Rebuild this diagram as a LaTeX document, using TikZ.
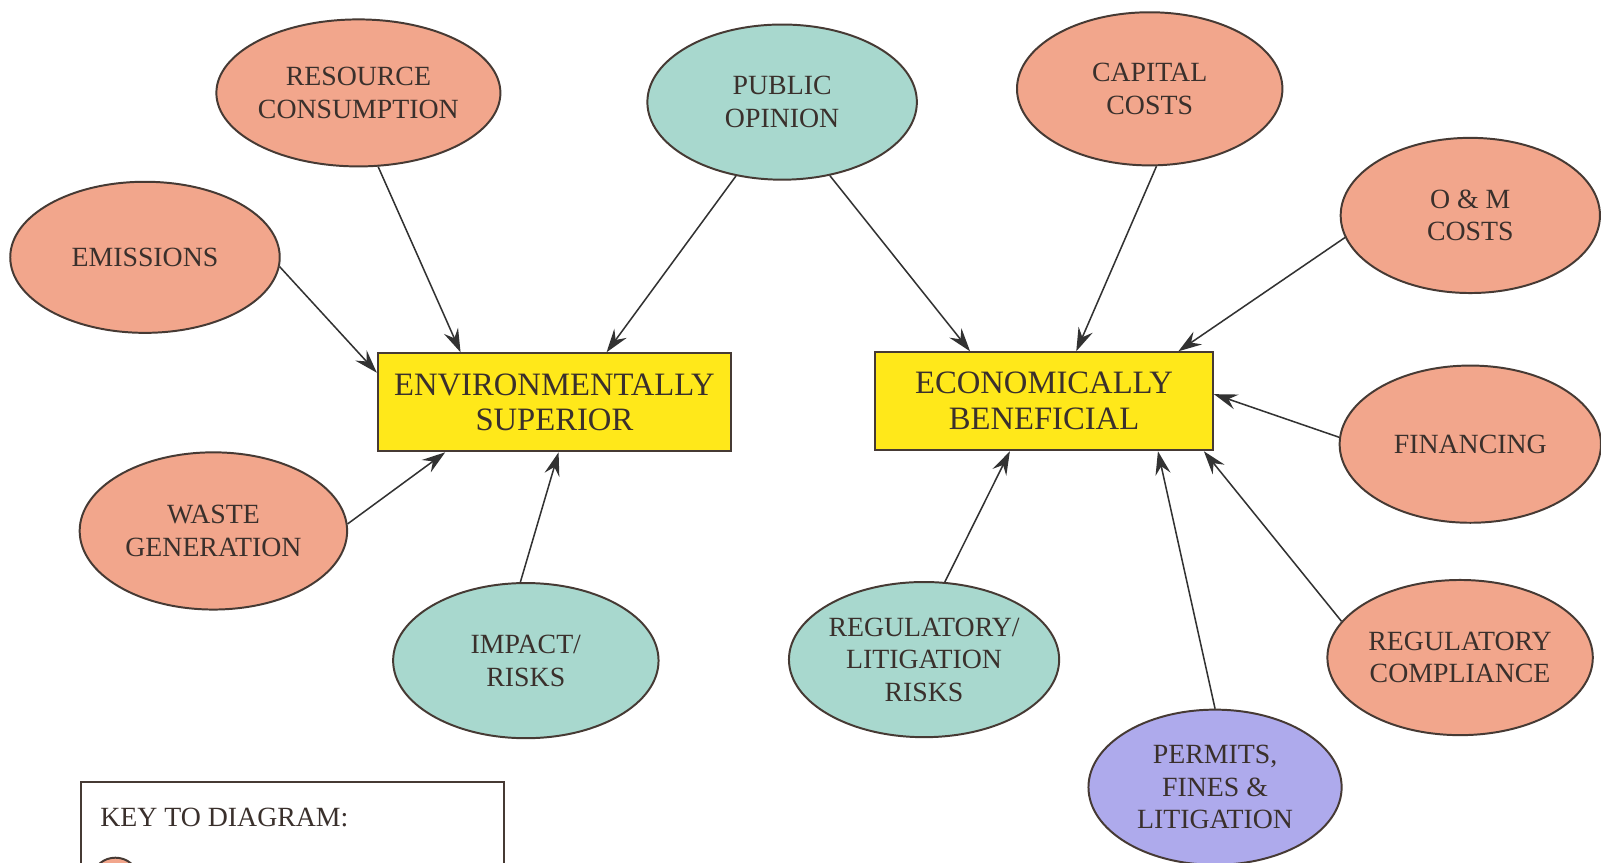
\documentclass[tikz,border=0pt]{standalone}
\usepackage{fontspec}
\setmainfont{Liberation Serif}
\usetikzlibrary{shapes.geometric,arrows.meta,calc}
\definecolor{salmon}{RGB}{242,166,140}
\definecolor{teal}{RGB}{168,216,206}
\definecolor{lav}{RGB}{174,170,236}
\definecolor{ybox}{RGB}{255,232,26}
\definecolor{ink}{RGB}{58,48,44}
\definecolor{edge}{RGB}{70,58,52}
\definecolor{arrc}{RGB}{50,50,50}
\tikzset{
  bubble/.style={ellipse, draw=edge, line width=1.1pt, inner sep=0pt,
    minimum width=5.2cm, minimum height=3.04cm, align=center, text=ink,
    font=\fontsize{15.5}{18.2}\selectfont},
  sal/.style={bubble, fill=salmon},
  tea/.style={bubble, fill=teal},
  lil/.style={bubble, fill=lav},
  goal/.style={rectangle, draw=edge, line width=1.1pt, fill=ybox, inner sep=0pt,
    minimum height=1.92cm, align=center, text=ink,
    font=\fontsize{18.2}{20}\selectfont},
  arr/.style={draw=arrc, line width=0.85pt,
    -{Stealth[length=0.46cm, width=0.30cm, inset=0.16cm]}},
  keybox/.style={draw=edge, line width=1.1pt, fill=white},
}
\begin{document}
\begin{tikzpicture}[x=0.02cm, y=-0.02cm]
\useasboundingbox (0,0) rectangle (1568,845);
\clip (0,0) rectangle (1568,845);
\fill[white] (0,0) rectangle (1568,845);

% central boxes
\node[goal, minimum width=6.92cm] (env) at (543,394) {ENVIRONMENTALLY\\SUPERIOR};
\node[goal, minimum width=6.62cm] (eco) at (1022.5,393) {ECONOMICALLY\\BENEFICIAL};

% factor ellipses
\node[sal, minimum width=5.28cm, minimum height=2.88cm] (res) at (351,91) {RESOURCE\\CONSUMPTION};
\node[sal, minimum width=5.28cm, minimum height=2.96cm] (emi) at (142,252) {EMISSIONS};
\node[tea, minimum width=5.28cm] (pub) at (766,100) {PUBLIC\\OPINION};
\node[sal, minimum height=3.0cm] (cap) at (1126,87) {CAPITAL\\COSTS};
\node[sal, minimum width=5.08cm] (om) at (1440,211) {O \& M\\COSTS};
\node[sal, minimum width=5.12cm, minimum height=3.08cm] (fin) at (1440,435) {FINANCING};
\node[sal, minimum width=5.24cm, minimum height=3.08cm] (was) at (209,520) {WASTE\\GENERATION};
\node[tea] (imp) at (515,647) {IMPACT/\\RISKS};
\node[tea] (rl) at (905,646) {REGULATORY/\\LITIGATION\\RISKS};
\node[sal] (rc) at (1430,644) {REGULATORY\\COMPLIANCE};
\node[lil, minimum width=4.96cm] (per) at (1190,771) {PERMITS,\\FINES \&\\LITIGATION};

% arrow tips on the boxes
\coordinate (e1) at ($(env.north west)+(82,0)$);
\coordinate (e2) at ($(env.north west)+(225,0)$);
\coordinate (e3) at ($(env.north west)+(0,20)$);
\coordinate (e4) at ($(env.south west)+(67,0)$);
\coordinate (e5) at ($(env.south west)+(178,0)$);
\coordinate (c1) at ($(eco.north west)+(94,0)$);
\coordinate (c2) at ($(eco.north west)+(198,0)$);
\coordinate (c3) at ($(eco.north west)+(298,0)$);
\coordinate (c4) at ($(eco.north east)+(0,42)$);
\coordinate (c5) at ($(eco.south west)+(133,0)$);
\coordinate (c6) at ($(eco.south west)+(278,0)$);
\coordinate (c7) at ($(eco.south west)+(323,0)$);

% connectors
\draw[arr] (res.-75) -- (e1);
\draw[arr] (pub.-122) -- (e2);
\draw[arr] (emi.-4) -- (e3);
\draw[arr] (was.3) -- (e4);
\draw[arr] (imp.94) -- (e5);
\draw[arr] (pub.-57) -- (c1);
\draw[arr] (cap.-85) -- (c2);
\draw[arr] (om.-170) -- (c3);
\draw[arr] (fin.177) -- (c4);
\draw[arr] (rl.75) -- (c5);
\draw[arr] (per.90) -- (c6);
\draw[arr] (rc.163) -- (c7);

% key
\node[keybox, minimum width=8.3cm, minimum height=3.2cm, anchor=north west, inner sep=0pt] (key) at (78,765) {};
\node[anchor=west, text=ink, font=\fontsize{15.5}{18}\selectfont] (keyt) at ($(key.north west)+(14,36)$) {KEY TO DIAGRAM:};
\node[ellipse, draw=edge, line width=1.1pt, fill=salmon, minimum width=0.84cm, minimum height=0.72cm, inner sep=0pt] (keys) at ($(key.north west)+(35,93)$) {};
\end{tikzpicture}
\end{document}
